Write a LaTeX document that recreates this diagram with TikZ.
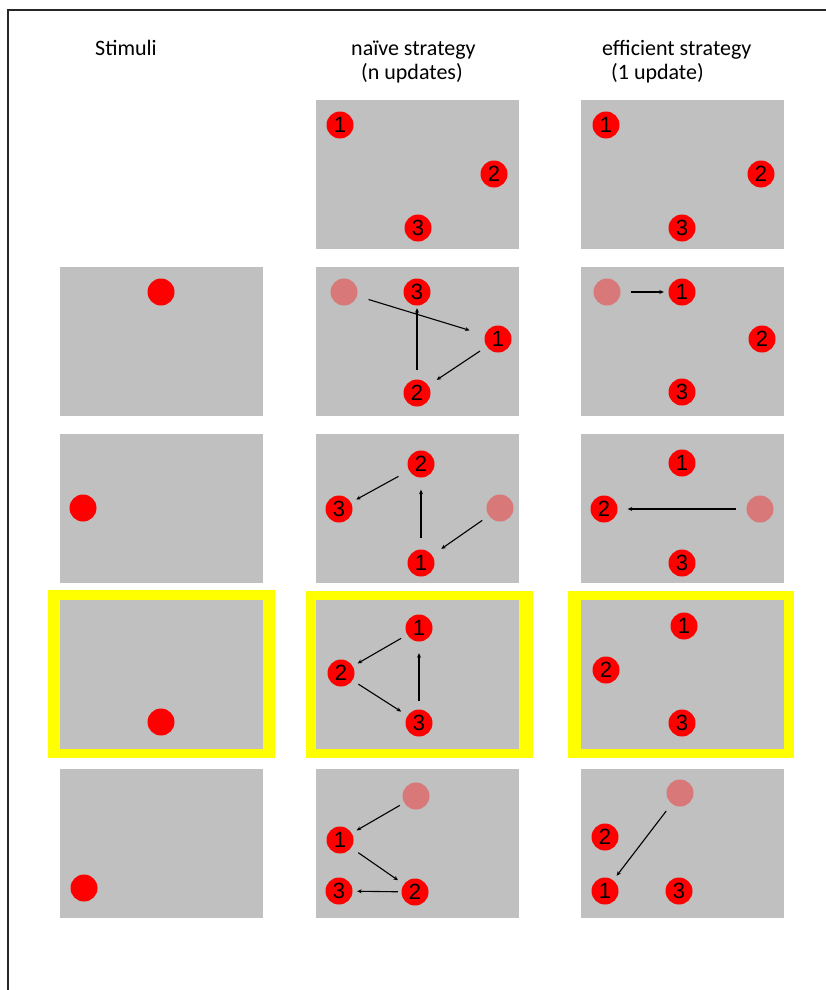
\documentclass[tikz,border=0pt]{standalone}
\usepackage{fontspec}
\setmainfont{Carlito}
\newfontfamily\numfont{Liberation Sans}
\usetikzlibrary{arrows.meta}
\definecolor{panelgray}{RGB}{192,192,192}
\definecolor{fadedred}{RGB}{216,120,120}
\definecolor{hiyellow}{RGB}{255,255,0}
\begin{document}
\begin{tikzpicture}[x=1pt,y=-1pt,
  dot/.style={circle, fill=red, minimum size=27pt, inner sep=0pt, font=\numfont\fontsize{22}{22}\selectfont},
  ghost/.style={circle, fill=fadedred, minimum size=27pt, inner sep=0pt},
  arr/.style={-{Stealth[length=4.5pt,width=4pt]}, line width=1.1pt, black},
  head/.style={anchor=base west, inner sep=0pt, font=\fontsize{22}{24}\selectfont},
  panel/.style={fill=panelgray},
  hilite/.style={fill=hiyellow}]
\useasboundingbox (0,0) rectangle (826,990);
% frame
\draw[line width=1.3pt, black!85] (8,990) -- (8,10) -- (826,10);
% headings
\node[head] (h1) at (95,56) {Stimuli};
\node[head] (h2a) at (351,56) {naïve strategy};
\node[head] (h2b) at (361,80) {(n updates)};
\node[head] (h3a) at (602,56) {efficient strategy};
\node[head] (h3b) at (611,80) {(1 update)};
% highlight frames (row 3)
\fill[hilite] (48,590) rectangle (275,758);
\fill[hilite] (306,591) rectangle (533,758);
\fill[hilite] (568,591) rectangle (794,758);
% panels
\foreach \y in {267,434,600,769} \fill[panel] (60,\y) rectangle ++(203,149);
\foreach \y in {100,267,434,600,769} {
  \fill[panel] (316,\y) rectangle ++(203,149);
  \fill[panel] (581,\y) rectangle ++(203,149);
}
% row 0
\node[dot] (n01) at (340,125) {1};
\node[dot] (n02) at (494,174) {2};
\node[dot] (n03) at (418,228) {3};
\node[dot] (e01) at (606,125) {1};
\node[dot] (e02) at (761,174) {2};
\node[dot] (e03) at (682,228) {3};
% row 1
\node[dot] (s1) at (161,292) {};
\node[ghost] (g1) at (344,292) {};
\node[dot] (a13) at (417,292) {3};
\node[dot] (a11) at (498,339) {1};
\node[dot] (a12) at (417,393) {2};
\draw[arr, shorten <=12pt, shorten >=16pt] (g1) -- (a11);
\draw[arr, shorten <=8pt, shorten >=10pt] (a11) -- (a12);
\draw[arr, shorten <=9pt, shorten >=2.5pt] (a12) -- (a13);
\node[ghost] (h1g) at (607,292) {};
\node[dot] (b11) at (682,292) {1};
\node[dot] (b12) at (762,339) {2};
\node[dot] (b13) at (682,392) {3};
\draw[arr, shorten <=10pt, shorten >=4.5pt] (h1g) -- (b11);
% row 2
\node[dot] (s2) at (83,508) {};
\node[dot] (a22) at (421,464) {2};
\node[dot] (a23) at (339,509) {3};
\node[ghost] (g2) at (500,508) {};
\node[dot] (a21) at (421,563) {1};
\draw[arr, shorten <=12pt, shorten >=6pt] (a22) -- (a23);
\draw[arr, shorten <=8pt, shorten >=11pt] (g2) -- (a21);
\draw[arr, shorten <=11pt, shorten >=12pt] (a21) -- (a22);
\node[dot] (b21) at (682,463) {1};
\node[dot] (b22) at (604,509) {2};
\node[ghost] (h2g) at (760,509) {};
\node[dot] (b23) at (682,563) {3};
\draw[arr, shorten <=10pt, shorten >=10pt] (h2g) -- (b22);
% row 3
\node[dot] (s3) at (161,722) {};
\node[dot] (a31) at (419,628) {1};
\node[dot] (a32) at (341,673) {2};
\node[dot] (a33) at (419,723) {3};
\draw[arr, shorten <=7pt, shorten >=5.5pt] (a31) -- (a32);
\draw[arr, shorten <=7pt, shorten >=7.5pt] (a32) -- (a33);
\draw[arr, shorten <=8.5pt, shorten >=11.5pt] (a33) -- (a31);
\node[dot] (b31) at (684,626) {1};
\node[dot] (b32) at (606,670) {2};
\node[dot] (b33) at (682,723) {3};
% row 4
\node[dot] (s4) at (84,888) {};
\node[ghost] (g4) at (416,796) {};
\node[dot] (a41) at (340,840) {1};
\node[dot] (a43) at (339,891) {3};
\node[dot] (a42) at (415,892) {2};
\draw[arr, shorten <=5pt, shorten >=5.5pt] (g4) -- (a41);
\draw[arr, shorten <=8.5pt, shorten >=7pt] (a41) -- (a42);
\draw[arr, shorten <=3.5pt, shorten >=4.5pt] (a42) -- (a43);
\node[ghost] (h4g) at (680,793) {};
\node[dot] (b42) at (605,837) {2};
\node[dot] (b41) at (605,891) {1};
\node[dot] (b43) at (679,891) {3};
\draw[arr, shorten <=9pt, shorten >=5.5pt] (h4g) -- (b41);
\end{tikzpicture}
\end{document}
